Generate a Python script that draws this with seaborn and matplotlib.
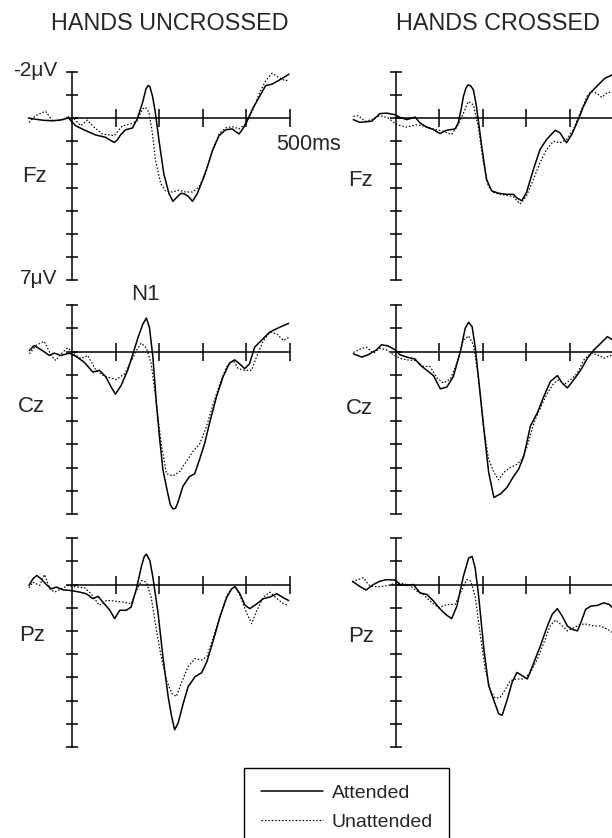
import pandas as pd
import matplotlib
matplotlib.use("Agg")
import matplotlib.pyplot as plt
from matplotlib.lines import Line2D
import seaborn as sns

# ERP traces: (time in ms, amplitude in microvolts)
FZ_UNCROSSED_ATT = [(-100, 0.0), (-85, 0.05), (-65, 0.1), (-45, 0.12), (-25, 0.08), (-8, 0.0), (8, 0.33),
                    (31, 0.54), (54, 0.73), (77, 0.83), (90, 0.98), (97, 1.05), (104, 0.95), (112, 0.72),
                    (123, 0.51), (139, 0.43), (150, 0.04), (162, -0.65), (170, -1.25), (175, -1.4),
                    (179, -1.35), (185, -0.95), (191, -0.31), (200, 0.97), (211, 2.4), (223, 3.26),
                    (232, 3.59), (242, 3.4), (250, 3.25), (257, 3.26), (267, 3.37), (277, 3.59), (288, 3.26),
                    (300, 2.69), (311, 2.11), (323, 1.4), (338, 0.76), (353, 0.51), (368, 0.47), (384, 0.69),
                    (395, 0.4), (403, 0.11), (415, -0.39), (430, -0.89), (445, -1.39), (460, -1.46),
                    (480, -1.67), (499, -1.89)]
FZ_UNCROSSED_UNATT = [(-99, 0.19), (-84, -0.1), (-61, -0.29), (-45, 0.11), (-26, 0.11), (-7, -0.06), (5, 0.04),
                      (20, 0.33), (35, 0.09), (51, 0.4), (70, 0.69), (97, 0.76), (116, 0.33), (135, 0.26),
                      (150, 0.11), (162, -0.39), (169, -0.46), (177, -0.24), (185, 0.69), (192, 1.83),
                      (204, 2.83), (215, 3.14), (231, 3.19), (246, 3.11), (261, 3.19), (277, 3.19), (292, 2.97),
                      (307, 2.4), (323, 1.4), (338, 0.69), (353, 0.43), (368, 0.37), (384, 0.47), (399, 0.26),
                      (415, -0.31), (430, -1.03), (445, -1.6), (460, -1.93), (476, -1.74), (491, -1.6),
                      (499, -1.67)]
FZ_CROSSED_ATT = [(-98, 0.07), (-83, 0.19), (-67, 0.16), (-56, 0.14), (-37, -0.19), (-21, -0.21), (-2, -0.14),
                  (9, -0.03), (25, 0.07), (44, -0.04), (55, 0.21), (70, 0.39), (86, 0.5), (101, 0.67),
                  (116, 0.53), (136, 0.47), (143, 0.21), (150, -0.4), (155, -0.93), (161, -1.3), (166, -1.43),
                  (172, -1.38), (178, -1.21), (185, -0.5), (197, 1.21), (208, 2.64), (220, 3.14), (235, 3.24),
                  (254, 3.29), (270, 3.29), (277, 3.43), (289, 3.57), (300, 3.21), (316, 2.21), (331, 1.36),
                  (346, 0.93), (366, 0.53), (377, 0.64), (392, 1.07), (404, 0.71), (419, 0.07), (431, -0.5),
                  (446, -1.07), (465, -1.43), (480, -1.71), (497, -1.86)]
FZ_CROSSED_UNATT = [(-98, -0.07), (-87, -0.1), (-71, 0.14), (-56, 0.07), (-37, -0.1), (-18, 0.0), (2, 0.29),
                    (25, 0.39), (48, 0.29), (67, 0.36), (86, 0.47), (109, 0.57), (128, 0.71), (143, 0.29),
                    (155, -0.21), (166, -0.71), (178, -0.57), (189, 0.36), (201, 1.93), (212, 2.93),
                    (224, 3.21), (239, 3.29), (254, 3.33), (270, 3.39), (285, 3.71), (300, 3.36), (316, 2.64),
                    (331, 1.93), (346, 1.36), (362, 1.0), (377, 1.07), (392, 0.93), (408, 0.5), (423, -0.21),
                    (439, -0.93), (450, -1.14), (461, -1.07), (473, -0.89), (484, -1.07), (497, -1.14)]

CZ_UNCROSSED_ATT = [(-98, -0.04), (-87, -0.26), (-68, -0.04), (-52, 0.17), (-41, 0.07), (-25, 0.17), (-6, 0.07),
                    (9, 0.21), (28, 0.46), (48, 0.89), (63, 0.81), (78, 1.1), (90, 1.53), (100, 1.84),
                    (113, 1.46), (128, 0.81), (140, 0.1), (152, -0.61), (163, -1.19), (171, -1.44),
                    (178, -1.04), (186, 0.24), (194, 2.24), (201, 3.67), (209, 5.1), (220, 6.1), (226, 6.6),
                    (232, 6.79), (238, 6.75), (243, 6.53), (255, 5.81), (270, 5.39), (282, 5.27), (293, 4.67),
                    (305, 3.96), (316, 3.1), (332, 1.96), (347, 1.1), (362, 0.5), (374, 0.36), (385, 0.53),
                    (397, 0.74), (408, 0.53), (420, -0.19), (435, -0.47), (454, -0.83), (469, -0.97),
                    (485, -1.11), (498, -1.21)]
CZ_UNCROSSED_UNATT = [(-98, 0.1), (-83, -0.26), (-64, -0.44), (-48, 0.17), (-37, 0.39), (-25, 0.1),
                      (-10, -0.16), (5, 0.1), (21, 0.31), (36, 0.17), (55, 0.81), (75, 1.07), (102, 1.21),
                      (121, 0.96), (137, 0.39), (148, -0.04), (159, -0.36), (171, -0.16), (182, 0.53),
                      (194, 2.24), (205, 3.96), (217, 5.27), (232, 5.36), (248, 5.17), (263, 4.74), (278, 4.31),
                      (294, 3.96), (309, 3.24), (325, 2.24), (340, 1.39), (355, 0.67), (371, 0.39), (382, 0.74),
                      (397, 0.81), (413, 0.81), (424, 0.24), (440, -0.47), (455, -0.83), (471, -0.76),
                      (486, -0.47), (499, -0.61)]
CZ_CROSSED_ATT = [(-98, 0.1), (-79, 0.24), (-64, 0.14), (-45, -0.07), (-33, -0.29), (-18, -0.24), (-2, -0.07),
                  (9, 0.14), (25, 0.24), (44, 0.33), (59, 0.64), (71, 0.81), (86, 1.04), (102, 1.61),
                  (117, 1.53), (132, 1.07), (148, 0.0), (159, -1.0), (167, -1.26), (175, -1.07), (182, -0.21),
                  (190, 1.21), (202, 3.36), (213, 5.21), (225, 6.29), (240, 6.14), (255, 5.86), (271, 5.36),
                  (282, 5.07), (294, 4.5), (309, 3.21), (325, 2.64), (340, 1.93), (355, 1.29), (371, 1.04),
                  (382, 1.36), (394, 1.57), (409, 1.21), (425, 0.79), (440, 0.29), (455, -0.07), (471, -0.36),
                  (486, -0.64), (498, -0.5)]
CZ_CROSSED_UNATT = [(-98, 0.04), (-83, -0.1), (-68, -0.19), (-52, 0.07), (-37, -0.14), (-22, -0.07), (-6, 0.14),
                    (9, 0.29), (25, 0.36), (44, 0.39), (63, 0.64), (78, 0.64), (94, 1.14), (109, 1.36),
                    (125, 1.19), (140, 0.5), (155, -0.5), (167, -0.67), (178, -0.29), (190, 1.21), (202, 3.36),
                    (213, 4.64), (225, 5.21), (236, 5.53), (248, 5.21), (263, 5.0), (278, 4.86), (290, 4.64),
                    (302, 4.07), (317, 3.07), (332, 2.43), (348, 1.79), (363, 1.36), (375, 1.21), (386, 1.43),
                    (402, 1.21), (417, 0.93), (432, 0.36), (448, 0.07), (463, 0.14), (478, 0.29), (498, 0.14)]

PZ_UNCROSSED_ATT = [(-99, 0.04), (-90, -0.24), (-81, -0.39), (-71, -0.24), (-59, 0.0), (-48, 0.19), (-36, 0.11),
                    (-21, 0.23), (-2, 0.26), (18, 0.33), (33, 0.4), (48, 0.61), (60, 0.51), (71, 0.76),
                    (87, 1.11), (98, 1.47), (110, 1.11), (125, 1.11), (136, 0.97), (148, 0.19), (160, -0.81),
                    (166, -1.2), (171, -1.31), (179, -1.03), (186, -0.31), (198, 1.26), (209, 3.11), (221, 4.83),
                    (229, 5.69), (236, 6.26), (244, 5.97), (256, 5.11), (267, 4.4), (283, 3.97), (298, 3.8),
                    (310, 3.33), (325, 2.4), (340, 1.4), (356, 0.54), (367, 0.19), (375, 0.09), (386, 0.4),
                    (398, 0.9), (409, 1.04), (425, 0.83), (440, 0.61), (455, 0.54), (471, 0.4), (486, 0.57),
                    (498, 0.69)]
PZ_UNCROSSED_UNATT = [(-99, 0.14), (-90, -0.1), (-74, 0.04), (-63, -0.43), (-51, 0.19), (-40, 0.33),
                      (-25, 0.19), (-9, 0.04), (10, 0.11), (29, 0.14), (44, 0.4), (63, 0.9), (79, 0.69),
                      (98, 0.71), (117, 0.76), (136, 0.83), (148, 0.26), (160, -0.17), (171, -0.1), (182, 0.54),
                      (194, 1.97), (205, 3.11), (217, 4.11), (229, 4.69), (240, 4.83), (251, 4.26), (267, 3.54),
                      (283, 3.19), (298, 3.26), (310, 3.11), (325, 2.26), (340, 1.4), (356, 0.47), (367, 0.19),
                      (375, 0.09), (386, 0.47), (402, 1.26), (413, 1.69), (425, 1.11), (440, 0.54), (455, 0.33),
                      (471, 0.61), (486, 0.83), (498, 0.9)]
PZ_CROSSED_ATT = [(-100, -0.14), (-87, 0.04), (-69, 0.24), (-52, 0.0), (-37, -0.14), (-22, -0.21), (-2, -0.19),
                  (9, 0.0), (25, 0.04), (40, 0.0), (55, 0.36), (71, 0.43), (86, 0.71), (102, 1.07), (117, 1.33),
                  (128, 1.47), (140, 0.93), (155, -0.36), (167, -1.14), (175, -1.21), (182, -0.71), (190, 0.5),
                  (202, 2.79), (213, 4.36), (225, 5.0), (236, 5.57), (244, 5.64), (255, 5.0), (267, 4.21),
                  (278, 3.79), (290, 3.93), (302, 4.07), (317, 3.36), (332, 2.64), (348, 1.79), (359, 1.29),
                  (371, 1.04), (382, 1.36), (394, 1.79), (405, 1.93), (417, 2.0), (425, 1.64), (436, 1.07),
                  (448, 0.93), (463, 0.9), (478, 0.79), (490, 0.86), (498, 1.0)]
PZ_CROSSED_UNATT = [(-100, -0.1), (-91, -0.19), (-75, -0.29), (-60, 0.07), (-37, 0.1), (-18, 0.04), (2, -0.07),
                    (17, -0.04), (32, 0.04), (48, 0.29), (63, 0.43), (78, 0.71), (98, 1.0), (117, 0.86),
                    (136, 0.86), (152, 0.21), (163, -0.21), (172, -0.14), (182, 0.5), (194, 2.21), (205, 3.64),
                    (217, 4.57), (228, 4.9), (240, 4.86), (252, 4.5), (263, 4.14), (278, 4.07), (294, 4.07),
                    (309, 3.79), (325, 3.21), (340, 2.5), (355, 1.76), (367, 1.53), (378, 1.71), (394, 2.0),
                    (409, 1.86), (425, 1.71), (440, 1.71), (455, 1.79), (471, 1.79), (486, 1.93), (498, 2.07)]

SITES = ["Fz", "Cz", "Pz"]
HANDS = ["HANDS UNCROSSED", "HANDS CROSSED"]
CONDITIONS = ["Attended", "Unattended"]
TRACES = {
    ("Fz", "HANDS UNCROSSED"): (FZ_UNCROSSED_ATT, FZ_UNCROSSED_UNATT),
    ("Fz", "HANDS CROSSED"): (FZ_CROSSED_ATT, FZ_CROSSED_UNATT),
    ("Cz", "HANDS UNCROSSED"): (CZ_UNCROSSED_ATT, CZ_UNCROSSED_UNATT),
    ("Cz", "HANDS CROSSED"): (CZ_CROSSED_ATT, CZ_CROSSED_UNATT),
    ("Pz", "HANDS UNCROSSED"): (PZ_UNCROSSED_ATT, PZ_UNCROSSED_UNATT),
    ("Pz", "HANDS CROSSED"): (PZ_CROSSED_ATT, PZ_CROSSED_UNATT),
}
X_TICKS = [100, 200, 300, 400, 500]
Y_TICKS = [-2, -1, 0, 1, 2, 3, 4, 5, 6, 7]


def main():
    rows = []
    for (site, hands), pair in TRACES.items():
        for cond, trace in zip(CONDITIONS, pair):
            for ms, uv in trace:
                rows.append({"site": site, "hands": hands, "condition": cond, "ms": ms, "uV": uv})
    df = pd.DataFrame(rows)

    sns.set_theme(style="white")
    plt.rcParams["font.family"] = ["Liberation Sans", "DejaVu Sans"]

    W, H = 612, 838
    fig = plt.figure(figsize=(W / 100, H / 100), dpi=100)
    fig.patch.set_facecolor("white")

    # pixel layout of the panel grid
    px_per_ms = 0.435
    px_per_uv = 23.2
    xlim = (-110, 520)
    ylim = (7.4, -2.4)
    col_axis_x = [72, 396]
    row_zero_y = [118, 351.5, 584.5]

    for r, site in enumerate(SITES):
        for c, hands in enumerate(HANDS):
            left = col_axis_x[c] + xlim[0] * px_per_ms
            width = (xlim[1] - xlim[0]) * px_per_ms
            top = row_zero_y[r] + ylim[1] * px_per_uv
            height = (ylim[0] - ylim[1]) * px_per_uv
            ax = fig.add_axes([left / W, 1 - (top + height) / H, width / W, height / H])
            ax.set_facecolor("none")

            sub = df[(df["site"] == site) & (df["hands"] == hands)]
            sns.lineplot(data=sub, x="ms", y="uV", style="condition", style_order=CONDITIONS,
                         dashes={"Attended": "", "Unattended": (1.3, 1.6)},
                         color="black", estimator=None, linewidth=1.1, legend=False, ax=ax)
            ax.lines[1].set_linewidth(0.85)

            ax.set_xlim(*xlim)
            ax.set_ylim(*ylim)
            for side in ["top", "right"]:
                ax.spines[side].set_visible(False)
            ax.spines["left"].set_position(("data", 0))
            ax.spines["left"].set_bounds(-2, 7)
            ax.spines["bottom"].set_position(("data", 0))
            ax.spines["bottom"].set_bounds(0, 500)
            for side in ["left", "bottom"]:
                ax.spines[side].set_color("black")
                ax.spines[side].set_linewidth(1.1)
            ax.set_xticks(X_TICKS)
            ax.set_yticks(Y_TICKS)
            ax.set_xticklabels([])
            ax.set_yticklabels([])
            ax.tick_params(axis="x", direction="inout", length=13.5, width=1.1, color="black")
            ax.tick_params(axis="y", direction="inout", length=8.5, width=1.1, color="black")
            ax.tick_params(left=True, bottom=True)
            ax.set_xlabel("")
            ax.set_ylabel("")

    def fxy(x, y):
        return x / W, 1 - y / H

    # column titles
    fig.text(*fxy(170, 23), HANDS[0], ha="center", va="center", fontsize=16.8)
    fig.text(*fxy(498, 24), HANDS[1], ha="center", va="center", fontsize=16.8)

    # electrode site labels
    site_pos = {("Fz", 0): (35, 177), ("Cz", 0): (31, 407), ("Pz", 0): (32, 635),
                ("Fz", 1): (361, 180), ("Cz", 1): (359, 408), ("Pz", 1): (361, 636)}
    for (site, c), (x, y) in site_pos.items():
        fig.text(*fxy(x, y), site, ha="center", va="center", fontsize=16)

    # scale annotations
    fig.text(*fxy(57, 71), "-2\u03bcV", ha="right", va="center", fontsize=15)
    fig.text(*fxy(57, 278), "7\u03bcV", ha="right", va="center", fontsize=15)
    fig.text(*fxy(276, 144), "500ms", ha="left", va="center", fontsize=15.5)
    fig.text(*fxy(145, 294), "N1", ha="center", va="center", fontsize=16)

    handles = [Line2D([], [], color="black", lw=1.1),
               Line2D([], [], color="black", lw=0.85, dashes=(1.3, 1.6))]
    leg = fig.legend(handles, CONDITIONS, loc="upper left",
                     bbox_to_anchor=(244 / W, 1 - 768 / H), bbox_transform=fig.transFigure,
                     borderaxespad=0, frameon=True, fancybox=False, framealpha=1,
                     edgecolor="black", fontsize=14, handlelength=3.2, handletextpad=0.45,
                     labelspacing=0.56, borderpad=0.85)
    leg.get_frame().set_linewidth(1.0)

    fig.savefig("out.png", dpi=100, facecolor="white")
    plt.close(fig)


if __name__ == "__main__":
    main()
